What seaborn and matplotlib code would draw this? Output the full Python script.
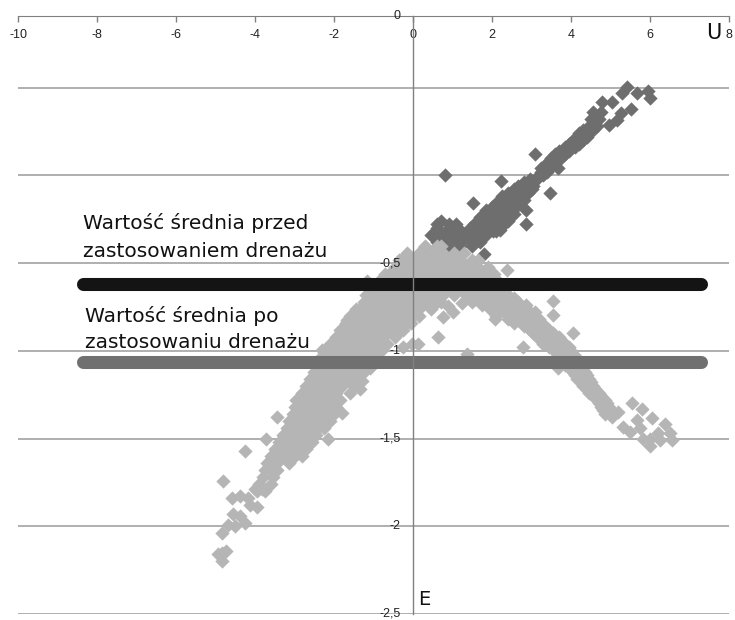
import pandas as pd
import matplotlib
matplotlib.use('Agg')
import matplotlib.pyplot as plt
import seaborn as sns

x_ticks = [-10, -8, -6, -4, -2, 0, 2, 4, 6, 8]
y_grid = [-2.5, -2, -1.5, -1, -0.5, 0, 0.5, 0.908]
y_labels = {-2.5: '-2,5', -2: '-2', -1.5: '-1,5', -1: '-1', -0.5: '-0,5', 0.908: '0'}

# after drainage (E value: U values)
light_rows = {
    -0.40: [0.3, 0.6, 0.7],
    -0.44: [-0.15, 0.15, 0.45, 0.75, 1.05, 1.3],
    -0.48: [-0.35, -0.3, 0, 0.3, 0.6, 0.9, 1.2, 1.5, 1.65],
    -0.52: [-0.45, -0.15, 0.15, 0.45, 0.75, 1.05, 1.35, 1.65, 1.9],
    -0.56: [-0.7, -0.6, -0.3, 0, 0.3, 0.6, 0.9, 1.2, 1.5, 1.8, 2.05],
    -0.60: [-0.85, -0.75, -0.45, -0.15, 0.15, 0.45, 0.75, 1.05, 1.35, 1.65, 1.95, 2.15],
    -0.64: [-1.0, -0.9, -0.6, -0.3, 0, 0.3, 0.6, 0.9, 1.2, 1.5, 1.8, 2.1, 2.3],
    -0.68: [-1.2, -1.05, -0.75, -0.45, -0.15, 0.15, 0.45, 0.75, 1.05, 1.35, 1.65, 1.95, 2.25, 2.4],
    -0.72: [-1.25, -1.2, -0.9, -0.6, -0.3, 0, 0.3, 0.6, 0.7, 1.5, 1.8, 2.1, 2.4, 2.65],
    -0.76: [-1.45, -1.35, -1.05, -0.75, -0.45, -0.15, 0.15, 0.45, 1.95, 2.25, 2.55, 2.85],
    -0.80: [-1.6, -1.5, -1.2, -0.9, -0.6, -0.3, 0, 0.15, 2.1, 2.4, 2.7, 3.05],
    -0.84: [-1.7, -1.65, -1.35, -1.05, -0.75, -0.45, -0.15, -0.05, 2.55, 2.85, 3.15, 3.25],
    -0.88: [-1.85, -1.8, -1.5, -1.2, -0.9, -0.6, -0.3, -0.25, 2.95, 3.15, 3.45],
    -0.92: [-1.95, -1.65, -1.35, -1.05, -0.75, -0.45, 3.15, 3.45, 3.7],
    -0.96: [-2.1, -1.8, -1.5, -1.2, -0.9, -0.65, 3.3, 3.6, 3.85],
    -1.00: [-2.25, -1.95, -1.65, -1.35, -1.05, -0.8, 3.6, 3.75, 4.0],
    -1.04: [-2.35, -2.1, -1.8, -1.5, -1.2, -0.95, 3.75, 3.9, 4.15],
    -1.08: [-2.45, -2.25, -1.95, -1.65, -1.35, -1.15, 3.85, 4.05, 4.25],
    -1.12: [-2.5, -2.4, -2.1, -1.8, -1.5, -1.25, 4.05, 4.2, 4.35],
    -1.16: [-2.6, -2.55, -2.25, -1.95, -1.65, -1.4, 4.15, 4.35, 4.45],
    -1.20: [-2.7, -2.4, -2.1, -1.8, -1.5, 4.3, 4.55],
    -1.24: [-2.8, -2.55, -2.25, -1.95, -1.6, 4.45, 4.65, 4.7],
    -1.28: [-2.95, -2.7, -2.4, -2.1, -1.85, 4.65, 4.85],
    -1.32: [-3.0, -2.85, -2.55, -2.25, -1.95, 4.75, 4.95],
    -1.36: [-3.05, -2.7, -3.0, -2.4, -2.1, -2.0, 4.85, 5.05],
    -1.40: [-3.15, -2.85, -2.55, -2.25, -2.1],
    -1.44: [-3.2, -3.0, -2.7, -2.4, -2.25],
    -1.48: [-3.3, -3.15, -2.85, -2.55, -2.45],
    -1.52: [-3.4, -3.3, -3.0, -2.7, -2.55],
    -1.56: [-3.5, -3.45, -3.15, -2.85, -2.7],
    -1.60: [-3.6, -3.3, -3.0, -2.8],
    -1.64: [-3.7, -3.45, -3.15],
    -1.68: [-3.75, -3.6, -3.45],
    -1.72: [-3.8, -3.55],
    -1.76: [-3.9, -3.6],
    -1.80: [-3.95, -3.75],
    # right arm, rows in between
    -0.70: [2.55],
    -0.74: [1.75, 2.05, 2.35, 2.65, 2.85],
    -0.78: [2.05, 2.4, 2.7, 2.95, 3.1],
    -0.82: [2.4, 2.7, 3.0, 3.2],
    -0.86: [2.8, 3.1, 3.35],
    -0.90: [3.05, 3.3, 3.55],
    -0.94: [3.25, 3.5, 3.75],
    -0.98: [3.45, 3.7, 3.95],
    -1.02: [3.65, 3.9, 4.05],
    -1.06: [3.8, 4.05, 4.2],
    -1.10: [3.95, 4.2, 4.3],
    -1.14: [4.1, 4.3, 4.4],
    -1.18: [4.25, 4.5],
    -1.22: [4.4, 4.6],
    -1.26: [4.55, 4.75],
    -1.30: [4.7, 4.9],
    -1.34: [4.8, 5.0],
}
light_extra_x = [5.32, 5.67, 5.54, 5.8, 6.05, 6.0, 6.2, 6.5, 6.0, 6.38, 5.04, 5.2, 5.5, 5.75, 5.82, 6.25, 6.55,
                 2.38, 3.54, 3.54, 4.05, 2.78, 2.08, 0.76, 1.01, 0.89, 1.24, 0.63, 0.13, -0.03, -0.25, 1.37,
                 -2.3, -1.16, -1.67, 3.67, 4.15, -1.09, -1.29, -1.34,
                 -3.44, -3.72, -4.25, -4.81, -4.58, -4.38, -2.15, -1.8, -3.95, -4.13, -4.25, -4.56, -4.38,
                 -4.84, -4.68, -4.5, -4.84, -4.73, -4.84, -4.94, -3.82, -4.0, -4.18]
light_extra_y = [-1.435, -1.395, -1.30, -1.33, -1.385, -1.5, -1.47, -1.47, -1.54, -1.42, -1.38, -1.35, -1.46, -1.44, -1.5, -1.51, -1.51,
                 -0.54, -0.717, -0.796, -0.90, -0.98, -0.82, -0.81, -0.78, -0.745, -0.73, -0.92, -0.96, -0.96, -0.98, -1.02,
                 -0.995, -0.6, -0.825, -1.1, -1.11, -1.1, -1.17, -1.22,
                 -1.38, -1.5, -1.57, -1.74, -1.84, -1.83, -1.5, -1.355, -1.89, -1.88, -1.98, -1.93, -1.94,
                 -2.04, -1.99, -2.0, -2.15, -2.14, -2.2, -2.16, -1.79, -1.79, -1.84]

# before drainage
dark_rows = {
    0.36: [4.55, 4.75],
    0.34: [4.6],
    0.32: [4.5, 4.7],
    0.30: [4.55],
    0.28: [4.45, 4.65],
    0.26: [4.3, 4.55],
    0.24: [4.2, 4.4],
    0.22: [4.15, 4.4],
    0.20: [4.05, 4.3],
    0.18: [3.95, 4.2],
    0.16: [3.85, 4.1],
    0.14: [3.7, 3.95],
    0.12: [3.6, 3.85],
    0.10: [3.5, 3.75],
    0.08: [3.45, 3.65],
    0.06: [3.35, 3.55],
    0.04: [3.25, 3.45],
    0.02: [3.25, 3.4],
    0.00: [3.2, 3.3],
    -0.02: [2.95, 3.15],
    -0.04: [2.8, 3.0],
    -0.06: [2.65, 2.9, 3.05],
    -0.08: [2.55, 2.8, 3.0],
    -0.10: [2.4, 2.65, 2.9],
    -0.12: [2.25, 2.5, 2.8],
    -0.14: [2.2, 2.45, 2.75],
    -0.16: [2.1, 2.4, 2.7],
    -0.18: [2.0, 2.3, 2.6],
    -0.20: [1.85, 2.15, 2.5],
    -0.22: [1.8, 2.1, 2.4, 2.55],
    -0.24: [1.7, 2.0, 2.25, 2.45],
    -0.26: [0.7, 1.65, 1.9, 2.15, 2.4],
    -0.28: [0.6, 0.9, 1.1, 1.55, 1.8, 2.05, 2.3],
    -0.30: [0.6, 0.9, 1.15, 1.45, 1.7, 1.95, 2.2],
    -0.32: [0.6, 0.9, 1.2, 1.5, 1.8, 2.1],
    -0.34: [0.45, 0.75, 1.05, 1.35, 1.65, 1.85],
    -0.36: [0.55, 0.75, 1.05, 1.35, 1.65, 1.75],
    -0.38: [0.6, 0.9, 1.2, 1.5, 1.7],
    -0.40: [0.65, 0.9, 1.2, 1.5],
}
dark_extra_x = [5.42, 5.3, 5.67, 5.95, 6.0, 4.78, 5.04, 5.52, 5.27, 5.16, 4.96,
                0.82, 2.23, 1.52, 3.1, 3.66, 3.48, 2.87, 2.85, 2.82, 2.32, 2.03, 2.2, 1.8, 0.3]
dark_extra_y = [0.503, 0.47, 0.47, 0.48, 0.44, 0.418, 0.418, 0.378, 0.355, 0.315, 0.287,
                0.0, -0.03, -0.16, 0.12, 0.04, -0.1, -0.2, -0.28, -0.14, -0.26, -0.32, -0.31, -0.45, -0.41]

mean_x = [-8.35, 7.3]
mean_before = [-0.62, -0.62]
mean_after = [-1.064, -1.064]


def rows_to_df(rows, extra_x, extra_y):
    xs = []
    ys = []
    for y, vals in rows.items():
        for v in vals:
            xs.append(v)
            ys.append(y)
    return pd.DataFrame({'U': xs + extra_x, 'E': ys + extra_y})


sns.set_style('white')
grid_col = '#a9a9a9'
fig = plt.figure(figsize=(7.35, 6.2), dpi=100)
ax = fig.add_axes([18 / 735, 1 - 614 / 620, 711 / 735, 598 / 620])

dark_df = rows_to_df(dark_rows, dark_extra_x, dark_extra_y)
light_df = rows_to_df(light_rows, light_extra_x, light_extra_y)
sns.scatterplot(data=dark_df, x='U', y='E', marker='D', s=48, color='#6e6e6e', linewidth=0.3, edgecolor='#6e6e6e', ax=ax)
sns.scatterplot(data=light_df, x='U', y='E', marker='D', s=48, color='#b5b5b5', linewidth=0.3, edgecolor='#b5b5b5', ax=ax)

sns.lineplot(x=mean_x, y=mean_before, color='#141414', linewidth=9.4, solid_capstyle='round', ax=ax)
sns.lineplot(x=mean_x, y=mean_after, color='#707070', linewidth=9.4, solid_capstyle='round', ax=ax)

ax.set_xlim(-10, 8)
ax.set_ylim(-2.5, 0.908)
ax.set_xlabel('')
ax.set_ylabel('')
ax.set_axisbelow(True)

narrow = ['Liberation Sans Narrow', 'Liberation Sans', 'DejaVu Sans']
ax.xaxis.tick_top()
ax.set_xticks(x_ticks)
ax.set_xticklabels([str(t) for t in x_ticks], family=narrow, fontsize=9, color='#222222')
ax.tick_params(axis='x', direction='in', length=4, width=1, color='#808080', pad=-18)
ax.set_yticks(y_grid)
ax.set_yticklabels([])
ax.tick_params(axis='y', length=0)
ax.grid(axis='y', color=grid_col, linewidth=1.3)
ax.grid(axis='x', visible=False)

for s in ['right', 'bottom']:
    ax.spines[s].set_visible(False)
ax.spines['top'].set_color('#808080')
ax.spines['left'].set_position(('data', 0))
ax.spines['left'].set_color('#808080')
ax.spines['left'].set_linewidth(1)

for val, lab in y_labels.items():
    ax.text(-0.32, val, lab, ha='right', va='center', family=narrow, fontsize=9, color='#222222', zorder=6, clip_on=False)

ax.text(-8.35, -0.352, 'Wartość średnia przed\nzastosowaniem drenażu', fontsize=14.5, color='#111111',
        va='center', ha='left', linespacing=1.55, zorder=6)
ax.text(-8.3, -0.876, 'Wartość średnia po\nzastosowaniu drenażu', fontsize=14.5, color='#111111',
        va='center', ha='left', linespacing=1.42, zorder=6)
ax.text(7.42, 0.81, 'U', fontsize=15, color='#111111', va='center', ha='left', zorder=6)
ax.text(0.12, -2.42, 'E', fontsize=14, color='#111111', va='center', ha='left', zorder=6)

fig.savefig('out.png', dpi=100)
